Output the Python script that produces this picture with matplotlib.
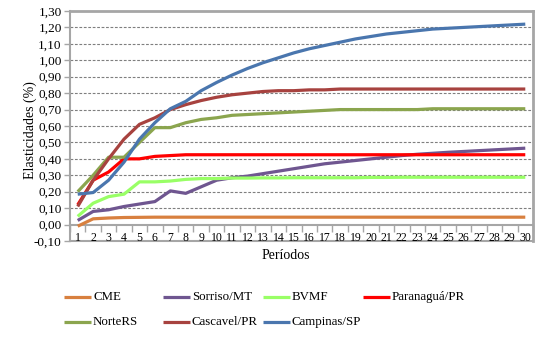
import matplotlib
matplotlib.use("Agg")
import matplotlib.pyplot as plt
from matplotlib.lines import Line2D
from matplotlib.ticker import FixedLocator, FuncFormatter

plt.rcParams['font.family'] = ['Liberation Serif', 'DejaVu Serif']

periods = list(range(1, 31))

cme = [-0.01, 0.035, 0.040, 0.043, 0.044, 0.045, 0.045, 0.045, 0.045, 0.045,
       0.045, 0.045, 0.045, 0.045, 0.045, 0.045, 0.045, 0.045, 0.045, 0.045,
       0.045, 0.045, 0.045, 0.045, 0.045, 0.045, 0.045, 0.045, 0.045, 0.045]
sorriso = [0.025, 0.080, 0.090, 0.110, 0.125, 0.140, 0.205, 0.190, 0.230, 0.270,
           0.285, 0.295, 0.310, 0.325, 0.340, 0.355, 0.370, 0.380, 0.390, 0.400,
           0.410, 0.420, 0.428, 0.434, 0.440, 0.445, 0.450, 0.455, 0.460, 0.465]
bvmf = [0.050, 0.130, 0.170, 0.185, 0.260, 0.260, 0.265, 0.275, 0.280, 0.280,
        0.283, 0.283, 0.284, 0.284, 0.285, 0.285, 0.285, 0.285, 0.285, 0.287,
        0.287, 0.288, 0.288, 0.288, 0.288, 0.288, 0.288, 0.288, 0.288, 0.288]
paranagua = [0.120, 0.270, 0.320, 0.400, 0.400, 0.415, 0.420, 0.425, 0.425, 0.425,
             0.425, 0.425, 0.425, 0.425, 0.425, 0.425, 0.425, 0.425, 0.425, 0.425,
             0.425, 0.425, 0.425, 0.425, 0.425, 0.425, 0.425, 0.425, 0.425, 0.425]
norte_rs = [0.200, 0.300, 0.410, 0.410, 0.500, 0.590, 0.590, 0.620, 0.640, 0.650,
            0.665, 0.670, 0.675, 0.680, 0.685, 0.690, 0.695, 0.700, 0.700, 0.700,
            0.700, 0.700, 0.700, 0.705, 0.705, 0.705, 0.705, 0.705, 0.705, 0.705]
cascavel = [0.110, 0.270, 0.400, 0.520, 0.610, 0.650, 0.700, 0.730, 0.755, 0.775,
            0.790, 0.800, 0.810, 0.815, 0.815, 0.820, 0.820, 0.825, 0.825, 0.825,
            0.825, 0.825, 0.825, 0.825, 0.825, 0.825, 0.825, 0.825, 0.825, 0.825]
campinas = [0.185, 0.195, 0.270, 0.380, 0.520, 0.620, 0.705, 0.750, 0.815, 0.865,
            0.910, 0.950, 0.985, 1.015, 1.045, 1.070, 1.090, 1.110, 1.130, 1.145,
            1.160, 1.170, 1.180, 1.190, 1.195, 1.200, 1.205, 1.210, 1.215, 1.220]

series_names = ['CME', 'Sorriso/MT', 'BVMF', 'Paranaguá/PR',
                'NorteRS', 'Cascavel/PR', 'Campinas/SP']
series_values = [cme, sorriso, bvmf, paranagua, norte_rs, cascavel, campinas]
series_colors = ['#D8803F', '#6F5690', '#99FF66', '#FF0000',
                 '#8BA54E', '#A7423F', '#4A76AE']

y_ticks = [round(-0.1 + 0.1 * i, 2) for i in range(15)]

W, H = 551, 337
fig = plt.figure(figsize=(W / 100, H / 100), dpi=100)
ax = fig.add_axes([70 / W, 1 - 241 / H, 463 / W, 230 / H])

frame_color = '#A6A6A6'

for name, vals, col in zip(series_names, series_values, series_colors):
    ax.plot(periods, vals, color=col, lw=2.3, solid_capstyle='butt', zorder=3)

ax.set_xlim(0.5, 30.5)
ax.set_ylim(-0.1, 1.3)

ax.set_yticks(y_ticks)
ax.yaxis.set_major_formatter(FuncFormatter(lambda v, p: f"{v:.2f}".replace('.', ',')))
ax.tick_params(axis='y', direction='out', length=4, width=1, color=frame_color,
               labelsize=9.5, pad=2)

for v in y_ticks[1:-1]:
    if abs(v) > 1e-9:
        ax.axhline(v, color='#7F7F7F', lw=0.8, ls=(0, (2.5, 1.5)), zorder=1)

ax.set_xticks(periods)
ax.set_xticklabels([str(p) for p in periods])
ax.xaxis.set_minor_locator(FixedLocator([p + 0.5 for p in range(0, 31)]))
ax.tick_params(axis='x', which='major', length=0, labelsize=8.5, pad=5)
ax.tick_params(axis='x', which='minor', direction='out', length=5, width=1,
               color=frame_color)

ax.spines['bottom'].set_position(('data', 0))
for s in ['bottom', 'left', 'top', 'right']:
    ax.spines[s].set_color(frame_color)
ax.spines['left'].set_linewidth(1.5)
ax.spines['bottom'].set_linewidth(1.5)
ax.spines['top'].set_linewidth(2)
ax.spines['right'].set_linewidth(2)
ax.axhline(-0.1, color=frame_color, lw=1.5, zorder=0, clip_on=False)

ax.set_ylabel('Elasticidades (%)', fontsize=10, va='center')
ax.yaxis.set_label_coords(-0.086, 0.483)
ax.set_xlabel('Períodos', fontsize=10, va='center')
ax.xaxis.set_label_coords(0.466, -0.062)

# legend laid out on a fixed grid of four columns and two rows
col_x = [64, 163, 263, 363]
row_y = [297, 322]
for i, (name, col) in enumerate(zip(series_names, series_colors)):
    r, c = divmod(i, 4)
    x0, y0 = col_x[c], row_y[r]
    fig.add_artist(Line2D([x0 / W, (x0 + 27) / W], [1 - y0 / H, 1 - y0 / H],
                          color=col, lw=2.3, solid_capstyle='butt',
                          transform=fig.transFigure))
    fig.text((x0 + 29) / W, 1 - y0 / H, name, fontsize=9.3, va='center', ha='left')

fig.savefig('out.png', dpi=100)
